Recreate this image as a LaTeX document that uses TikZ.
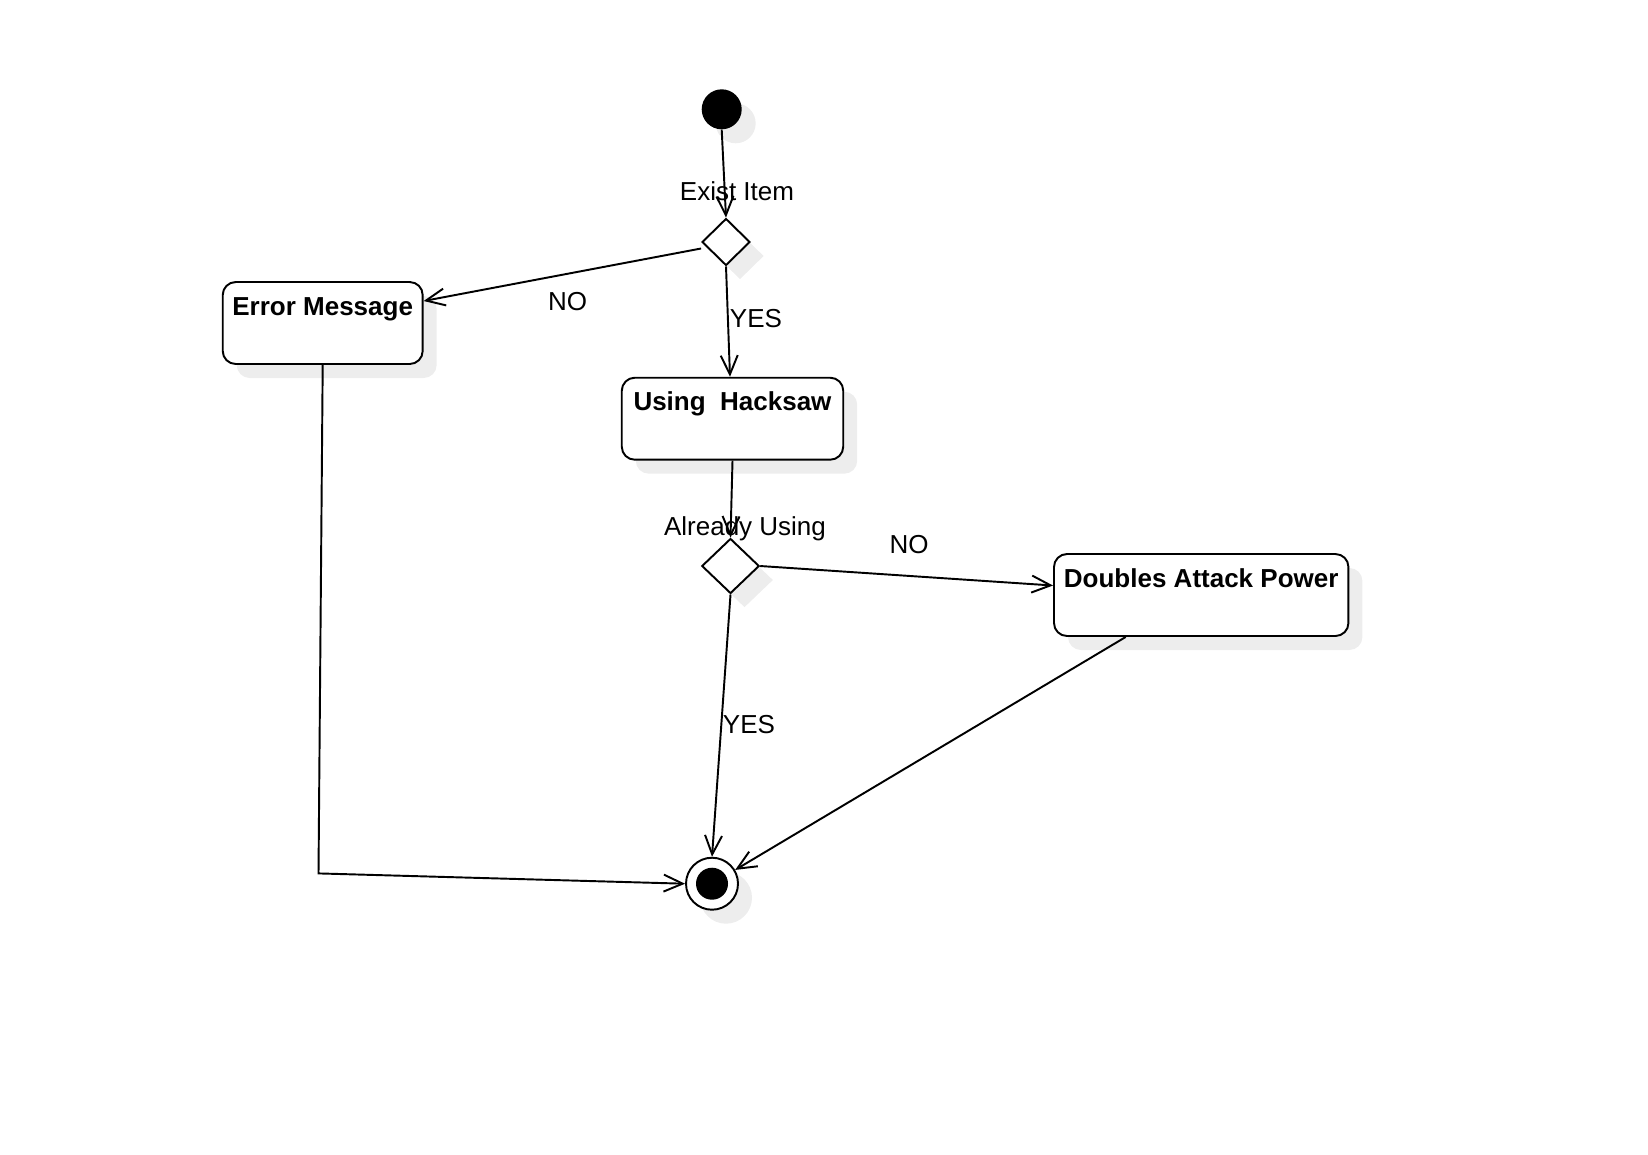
\documentclass[tikz,border=0pt]{standalone}
\usepackage{fontspec}
\setmainfont{Liberation Sans}
\usetikzlibrary{shapes.geometric, shadows, arrows.meta}

\newcommand{\schrift}{\fontsize{14.8}{17.8}\selectfont}

\tikzset{
	schatten/.style={drop shadow={shadow xshift=0.28cm, shadow yshift=-0.28cm, fill=black!7, opacity=1}},
	zustand/.style={draw, line width=1.1pt, rounded corners=0.26cm, fill=white, font=\bfseries\schrift, inner xsep=0pt, inner ysep=0pt, minimum height=1.64cm, text height=0.66cm, text depth=0.98cm, schatten},
	entscheidung/.style={diamond, draw, line width=1.1pt, fill=white, inner sep=0pt, schatten},
	startpunkt/.style={circle, fill=black, minimum size=0.8cm, inner sep=0pt, schatten},
	endpunkt/.style={circle, draw, line width=1.1pt, fill=white, minimum size=1.04cm, inner sep=0pt, schatten},
	fluss/.style={line width=1.1pt, -{Straight Barb[length=0.38cm, width=0.34cm]}},
	beschriftung/.style={font=\schrift, inner sep=0pt, anchor=base}
}

\begin{document}
\begin{tikzpicture}[x=0.02cm, y=-0.02cm]
	\useasboundingbox (0,0) rectangle (1648,1154);
	% start und ende
	\node[startpunkt] (start) at (721.7,109.3) {};
	\node[endpunkt] (ende) at (712,883.7) {};
	\fill (ende.center) circle (0.32cm);
	% entscheidungen
	\node[entscheidung, minimum width=0.96cm, minimum height=0.94cm] (frage1) at (726,242) {};
	\node[entscheidung, minimum width=1.15cm, minimum height=1.1cm] (frage2) at (730.5,566) {};
	\node[beschriftung] (frage1text) at (737,200.7) {Exist Item};
	\node[beschriftung] (frage2text) at (745,535.7) {Already Using};
	% aktionen
	\node[zustand, minimum width=4cm] (fehler) at (322.7,323) {Error Message};
	\node[zustand, minimum width=4.43cm] (saege) at (732.5,418.7) {Using\ \ Hacksaw};
	\node[zustand, minimum width=5.89cm] (doppelt) at (1201.2,595) {Doubles Attack Power};
	% pfeile oben
	\draw[fluss] (start.south) -- (frage1.north);
	\draw[fluss] ([yshift=-0.13cm]frage1.west) -- ([yshift=0.44cm]fehler.east);
	\draw[fluss] (frage1.south) -- ([xshift=-0.05cm]saege.north);
	\node[beschriftung] (nein1) at (567.5,310) {NO};
	\node[beschriftung] (ja1) at (756,327.7) {YES};
	% pfeile mitte
	\draw[fluss] (saege.south) -- (frage2.north);
	\draw[fluss] (frage2.east) -- ([yshift=0.19cm]doppelt.west);
	\draw[fluss] (frage2.south) -- (ende.north);
	\node[beschriftung] (nein2) at (909,553.3) {NO};
	\node[beschriftung] (ja2) at (749,733.3) {YES};
	% pfeile unten
	\coordinate (knick) at (318.5,873.4);
	\draw[fluss] ([xshift=-1.51cm]doppelt.south) -- (ende);
	\draw[fluss] (fehler.south) -- (knick) -- (ende.west);
\end{tikzpicture}
\end{document}
